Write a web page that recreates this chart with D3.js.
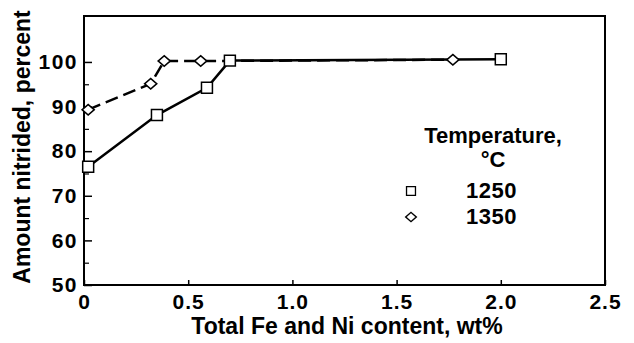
<!DOCTYPE html>
<html>
<head>
<meta charset="utf-8">
<script src="https://cdn.jsdelivr.net/npm/d3@7"></script>
<style>
  body { margin: 0; background: #fff; }
  text { font-family: "Liberation Sans", Arial, Helvetica, sans-serif; font-weight: bold; fill: #000; }
</style>
</head>
<body>
<div id="chart"></div>
<script>
// data
var xs1250 = [0.02, 0.35, 0.59, 0.70, 2.0];
var ys1250 = [76.5, 88.1, 94.2, 100.3, 100.6];
var xs1350 = [0.02, 0.32, 0.385, 0.56, 1.77];
var ys1350 = [89.3, 95.1, 100.2, 100.2, 100.5];
var seriesNames = ["1250", "1350"];
var xTicks = [0, 0.5, 1.0, 1.5, 2.0, 2.5];
var yTicks = [50, 60, 70, 80, 90, 100];
var yMinor = [55, 65, 75, 85, 95];

var width = 634, height = 343;
var pLeft = 84, pRight = 605, pTop = 16, pBottom = 285;

var svg = d3.select("#chart").append("svg")
  .attr("width", width)
  .attr("height", height);

var x = d3.scaleLinear().domain([0, 2.5]).range([pLeft, pRight]);
var y = d3.scaleLinear().domain([50, 110.3]).range([pBottom, pTop]);

// frame
svg.append("rect")
  .attr("x", pLeft).attr("y", pTop)
  .attr("width", pRight - pLeft).attr("height", pBottom - pTop)
  .attr("fill", "none").attr("stroke", "#000").attr("stroke-width", 2);

// axes, ticks pointing in
var xAxis = svg.append("g")
  .attr("transform", "translate(0," + pBottom + ")")
  .call(d3.axisBottom(x).tickValues(xTicks).tickSize(-5).tickPadding(9)
    .tickFormat(function(d) { return d === 0 ? "0" : d.toFixed(1); }));
xAxis.select(".domain").remove();
xAxis.selectAll("line").attr("stroke-width", 1.5);
xAxis.selectAll("text").style("font-size", "21px").style("letter-spacing", "1px").attr("font-family", null);

var yAxis = svg.append("g")
  .attr("transform", "translate(" + pLeft + ",0)")
  .call(d3.axisLeft(y).tickValues(yTicks).tickSize(-8).tickPadding(6));
yAxis.select(".domain").remove();
yAxis.selectAll("line").attr("stroke-width", 1.5);
yAxis.selectAll("text").style("font-size", "21px").style("letter-spacing", "1.5px").attr("font-family", null);

var yAxisMinor = svg.append("g")
  .attr("transform", "translate(" + pLeft + ",0)")
  .call(d3.axisLeft(y).tickValues(yMinor).tickSize(-5).tickFormat(""));
yAxisMinor.select(".domain").remove();
yAxisMinor.selectAll("line").attr("stroke-width", 1.2);

// axis titles
svg.append("text")
  .attr("x", 347).attr("y", 334)
  .attr("text-anchor", "middle")
  .style("font-size", "23px")
  .text("Total Fe and Ni content, wt%");

svg.append("text")
  .attr("transform", "translate(30,147) rotate(-90)")
  .attr("text-anchor", "middle")
  .style("font-size", "23px")
  .text("Amount nitrided, percent");

var line = d3.line()
  .x(function(d) { return x(d[0]); })
  .y(function(d) { return y(d[1]); });

var d1250 = d3.zip(xs1250, ys1250);
var d1350 = d3.zip(xs1350, ys1350);

svg.append("path")
  .datum(d1350)
  .attr("d", line)
  .attr("fill", "none").attr("stroke", "#000")
  .attr("stroke-width", 2.5)
  .attr("stroke-dasharray", "13,6");

svg.append("path")
  .datum(d1250)
  .attr("d", line)
  .attr("fill", "none").attr("stroke", "#000")
  .attr("stroke-width", 2.5);

var sq = d3.symbol().type(d3.symbolSquare).size(120);
var dm = d3.symbol().type(d3.symbolDiamond2).size(70);

svg.selectAll(".m1350").data(d1350).enter().append("path")
  .attr("class", "m1350")
  .attr("d", dm)
  .attr("transform", function(d) { return "translate(" + x(d[0]) + "," + y(d[1]) + ") scale(1.15,1)"; })
  .attr("fill", "#fff").attr("stroke", "#000").attr("stroke-width", 1.5);

svg.selectAll(".m1250").data(d1250).enter().append("path")
  .attr("class", "m1250")
  .attr("d", sq)
  .attr("transform", function(d) { return "translate(" + x(d[0]) + "," + y(d[1]) + ")"; })
  .attr("fill", "#fff").attr("stroke", "#000").attr("stroke-width", 1.5);

// legend
var lg = svg.append("g");
lg.append("text").attr("x", 493).attr("y", 143).attr("text-anchor", "middle")
  .style("font-size", "22px").text("Temperature,");
lg.append("text").attr("x", 493).attr("y", 167).attr("text-anchor", "middle")
  .style("font-size", "22px").text("\u00B0C");

var legendY = [191, 217];
seriesNames.forEach(function(name, i) {
  lg.append("path")
    .attr("d", d3.symbol().type(i === 0 ? d3.symbolSquare : d3.symbolDiamond2).size(i === 0 ? 80 : 55))
    .attr("transform", "translate(411," + legendY[i] + ")" + (i === 1 ? " scale(1.15,1)" : ""))
    .attr("fill", "#fff").attr("stroke", "#000").attr("stroke-width", 1.3);
  lg.append("text").attr("x", 466).attr("y", legendY[i] + 7)
    .style("font-size", "22px").style("letter-spacing", "0.5px").text(name);
});
</script>
</body>
</html>
